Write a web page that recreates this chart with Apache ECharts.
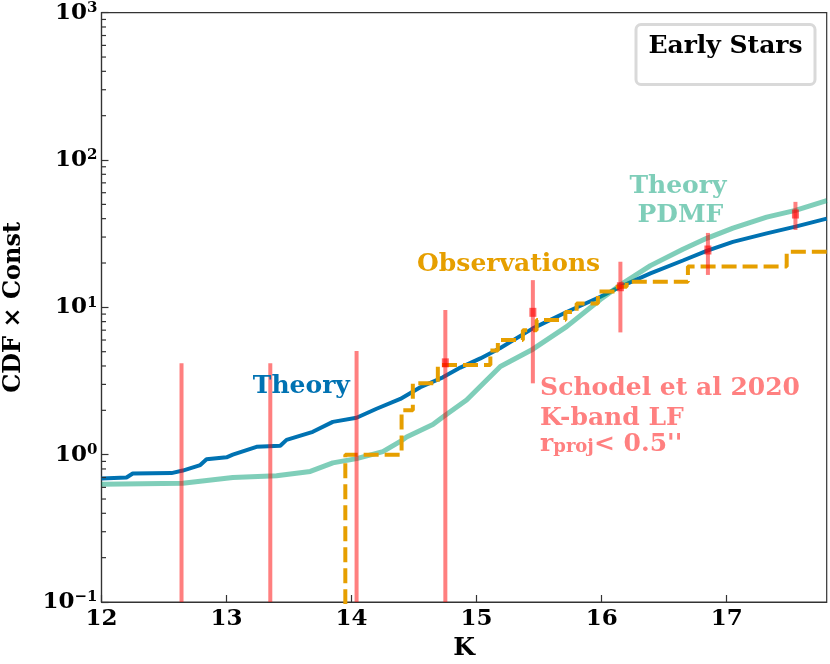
<!DOCTYPE html>
<html>
<head>
<meta charset="utf-8">
<script src="https://cdn.jsdelivr.net/npm/echarts@6/dist/echarts.min.js"></script>
<style>
  html, body { margin: 0; padding: 0; background: #fff; }
  #chart { width: 830px; height: 664px; }
</style>
</head>
<body>
<div id="chart"></div>
<script>
// theory CDF (blue)
const theoryK = [12.0, 12.2, 12.25, 12.56, 12.65, 12.79, 12.84, 13.0, 13.05, 13.24, 13.43, 13.48, 13.69, 13.85, 14.04, 14.2, 14.39, 14.55, 14.73, 14.87, 15.03, 15.19, 15.45, 15.72, 15.99, 16.15, 16.39, 16.65, 16.84, 17.05, 17.32, 17.55, 17.8];
const theoryV = [0.69, 0.70, 0.745, 0.75, 0.78, 0.85, 0.93, 0.96, 1.0, 1.13, 1.15, 1.26, 1.43, 1.67, 1.78, 2.05, 2.39, 2.87, 3.35, 3.9, 4.5, 5.3, 7.2, 9.3, 11.8, 13.8, 17.0, 20.8, 24.2, 27.8, 31.8, 35.3, 40.0];

// theory PDMF (green)
const pdmfK = [12.0, 12.65, 13.05, 13.4, 13.67, 13.85, 14.04, 14.25, 14.39, 14.44, 14.65, 14.73, 14.92, 15.19, 15.45, 15.72, 15.99, 16.15, 16.39, 16.65, 16.84, 17.05, 17.32, 17.55, 17.8];
const pdmfV = [0.63, 0.64, 0.70, 0.72, 0.77, 0.88, 0.94, 1.05, 1.23, 1.32, 1.6, 1.8, 2.35, 3.97, 5.2, 7.4, 11.3, 14.2, 19.2, 24.8, 29.4, 34.5, 41.0, 45.5, 53.0];

// observations (orange, step)
const obsK = [13.95, 13.95, 14.4, 14.49, 14.69, 15.11, 15.17, 15.37, 15.48, 15.71, 15.8, 15.97, 16.11, 16.2, 16.69, 17.48, 17.8];
const obsV = [0.05, 1.0, 2.0, 3.05, 4.06, 5.1, 6.0, 7.0, 8.2, 9.3, 10.6, 12.8, 13.8, 14.9, 18.9, 23.8, 23.8];

// Schodel et al 2020 K-band LF (0 = lower bound off the axis / no centre value)
const errK = [12.64, 13.35, 14.04, 14.75, 15.45, 16.15, 16.85, 17.55];
const errMid = [0, 0, 0, 4.2, 9.25, 13.8, 24.5, 43];
const errLow = [0, 0, 0, 0, 3.05, 6.76, 16.6, 33.5];
const errHigh = [4.17, 4.17, 5.05, 9.6, 15.3, 20.4, 32, 52];

const xTicks = [12, 13, 14, 15, 16, 17];
const yMin = 0.1, yMax = 1000;
const minorTicks = [];
[0.1, 1, 10, 100].forEach(d => { for (let m = 2; m <= 9; m++) minorTicks.push(+(d * m).toPrecision(3)); });

const SERIF = 'DejaVu Serif';
const chart = echarts.init(document.getElementById('chart'));

const supDigits = e => (e < 0 ? '\u2212' : '') + Math.abs(e);

chart.setOption({
    animation: false,
    backgroundColor: '#fff',
    grid: {
        left: 101.5, right: 3.3, top: 12.7, bottom: 62,
        outerBoundsMode: 'none',
        containLabel: false,
        show: true, borderColor: '#333', borderWidth: 1.2
    },
    xAxis: {
        type: 'value',
        min: 12, max: 17.8, interval: 1,
        name: 'K',
        nameLocation: 'middle',
        nameGap: 32,
        nameTextStyle: { fontFamily: SERIF, fontWeight: 'bold', fontSize: 25, color: '#000' },
        axisLine: { show: true, lineStyle: { color: '#333', width: 1.2 } },
        axisTick: { inside: true, length: 7, lineStyle: { color: '#333', width: 1.2 } },
        axisLabel: {
            showMaxLabel: false,
            margin: 6,
            fontFamily: SERIF, fontWeight: 'bold', fontSize: 23, color: '#000',
            formatter: v => xTicks.indexOf(v) >= 0 ? String(v) : ''
        },
        splitLine: { show: false }
    },
    yAxis: {
        type: 'log',
        logBase: 10,
        min: yMin, max: yMax,
        name: 'CDF \u00d7 Const',
        nameLocation: 'middle',
        nameGap: 76,
        nameTextStyle: { fontFamily: SERIF, fontWeight: 'bold', fontSize: 24, color: '#000' },
        axisLine: { show: true, lineStyle: { color: '#333', width: 1.2 } },
        axisTick: { inside: true, length: 7, lineStyle: { color: '#333', width: 1.2 } },
        axisLabel: {
            margin: 4,
            formatter: v => '{b|10}{s|' + supDigits(Math.round(Math.log10(v))) + '}',
            rich: {
                b: { fontFamily: SERIF, fontWeight: 'bold', fontSize: 23, lineHeight: 24, color: '#000' },
                s: { fontFamily: SERIF, fontWeight: 'bold', fontSize: 15, lineHeight: 15, verticalAlign: 'top', color: '#000' }
            }
        },
        splitLine: { show: false }
    },
    series: [
        {
            // minor log ticks on the y axis
            type: 'custom',
            silent: true,
            clip: false,
            data: minorTicks.map(v => [12, v]),
            renderItem: (params, api) => {
                const p = api.coord([api.value(0), api.value(1)]);
                return {
                    type: 'line',
                    shape: { x1: p[0], y1: p[1], x2: p[0] + 4.5, y2: p[1] },
                    style: { stroke: '#333', lineWidth: 1.2 }
                };
            },
            z: 10
        },
        {
            name: 'Theory',
            type: 'line',
            data: theoryK.map((k, i) => [k, theoryV[i]]),
            showSymbol: false,
            symbol: 'none',
            lineStyle: { color: '#0072B2', width: 4 },
            z: 2
        },
        {
            name: 'Theory PDMF',
            type: 'line',
            data: pdmfK.map((k, i) => [k, pdmfV[i]]),
            showSymbol: false,
            symbol: 'none',
            lineStyle: { color: 'rgba(0,158,115,0.5)', width: 5 },
            z: 3
        },
        {
            name: 'Observations',
            type: 'line',
            step: 'end',
            data: obsK.map((k, i) => [k, obsV[i]]),
            showSymbol: false,
            symbol: 'none',
            lineStyle: { color: '#E69F00', width: 4, type: [15, 6] },
            z: 4
        },
        {
            name: 'Schodel et al 2020',
            type: 'custom',
            data: errK.map((k, i) => [k, errLow[i], errHigh[i]]),
            encode: { x: 0, y: [1, 2] },
            renderItem: (params, api) => {
                const k = api.value(0);
                const lo = Math.max(api.value(1), yMin);
                const hi = api.value(2);
                const p1 = api.coord([k, lo]);
                const p2 = api.coord([k, hi]);
                return {
                    type: 'line',
                    shape: { x1: p1[0], y1: p1[1], x2: p2[0], y2: p2[1] },
                    style: { stroke: 'rgba(255,0,0,0.5)', lineWidth: 4 }
                };
            },
            z: 5
        },
        {
            type: 'scatter',
            data: errK.map((k, i) => [k, errMid[i]]).filter(d => d[1] > 0),
            symbol: 'rect',
            symbolSize: [7, 9],
            itemStyle: { color: 'rgba(255,0,0,0.6)', opacity: 1 },
            z: 6
        }
    ]
});

// text annotations, anchored in data coordinates
const notes = [
    { k: 13.21, v: 2.92, text: 'Theory', color: '#0072B2', align: 'left' },
    { k: 14.524, v: 19.4, text: 'Observations', color: '#E69F00', align: 'left' },
    { k: 16.61, v: 65.6, text: 'Theory', color: '#7FCEB9', align: 'center' },
    { k: 16.63, v: 41.7, text: 'PDMF', color: '#7FCEB9', align: 'center' },
    { k: 15.508, v: 2.83, text: 'Schodel et al 2020', color: '#FF8080', align: 'left' },
    { k: 15.508, v: 1.77, text: 'K-band LF', color: '#FF8080', align: 'left' }
];
const graphics = notes.map(n => {
    const p = chart.convertToPixel({ gridIndex: 0 }, [n.k, n.v]);
    return {
        type: 'text', x: p[0], y: p[1], z: 100,
        style: {
            text: n.text, fill: n.color, align: n.align, verticalAlign: 'middle',
            font: 'bold 25px "DejaVu Serif"'
        }
    };
});
const pr = chart.convertToPixel({ gridIndex: 0 }, [15.508, 1.18]);
graphics.push({
    type: 'text', x: pr[0], y: pr[1], z: 100,
    style: {
        text: "{m|r}{sub|proj}{m|< 0.5''}",
        align: 'left', verticalAlign: 'middle',
        rich: {
            m: { fontFamily: SERIF, fontWeight: 'bold', fontSize: 25, lineHeight: 25, verticalAlign: 'top', fill: '#FF8080', color: '#FF8080' },
            sub: { fontFamily: SERIF, fontWeight: 'bold', fontSize: 18, lineHeight: 18, padding: [12, 0, 0, 0], verticalAlign: 'bottom', fill: '#FF8080', color: '#FF8080' }
        }
    }
});
// "Early Stars" box
graphics.push({
    type: 'rect', z: 100,
    shape: { x: 636, y: 24.5, width: 179, height: 60, r: 5 },
    style: { fill: '#fff', stroke: '#d9d9d9', lineWidth: 3 }
});
graphics.push({
    type: 'text', x: 725.5, y: 46, z: 101,
    style: { text: 'Early Stars', fill: '#000', align: 'center', verticalAlign: 'middle', font: 'bold 25px "DejaVu Serif"' }
});
chart.setOption({ graphic: graphics });
</script>
</body>
</html>
